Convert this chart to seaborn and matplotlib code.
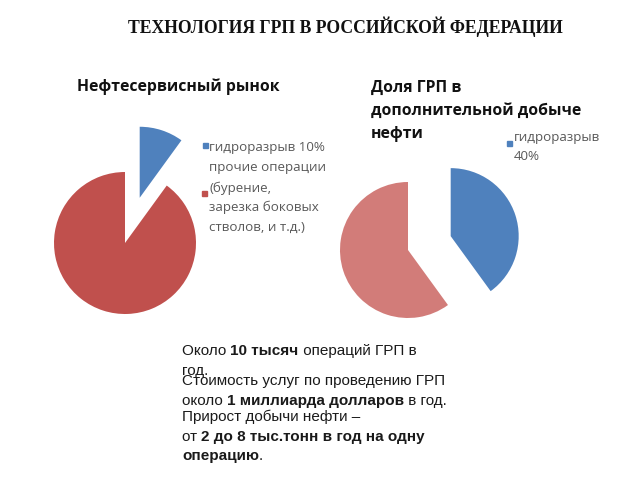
import matplotlib
matplotlib.use("Agg")
import matplotlib.pyplot as plt
import seaborn as sns
from matplotlib.patches import Rectangle

sns.set_theme(style="white")
plt.rcParams['font.family'] = ['Open Sans', 'DejaVu Sans']

# ---- data ----
main_title = "ТЕХНОЛОГИЯ ГРП В РОССИЙСКОЙ ФЕДЕРАЦИИ"
left_title = "Нефтесервисный рынок"
left_labels = ["гидроразрыв 10%", "прочие операции\n(бурение,\nзарезка боковых\nстволов, и т.д.)"]
left_values = [10, 90]
right_title = "Доля ГРП в\nдополнительной добыче\nнефти"
right_labels = ["гидроразрыв\n40%", ""]
right_values = [40, 60]
left_colors = ["#4F81BD", "#C0504D"]
right_colors = ["#4F81BD", "#D27C79"]
notes = [
    [("Около ", False), ("10 тысяч", True), (" операций ГРП в", False)],
    [("год.", False)],
    [("Стоимость услуг по проведению ГРП", False)],
    [("около ", False), ("1 миллиарда долларов", True), (" в год.", False)],
    [("Прирост добычи нефти –", False)],
    [("от ", False), ("2 до 8 тыс.тонн в год на одну", True)],
    [("операцию", True), (".", False)],
]

W, H = 640, 480
fig = plt.figure(figsize=(6.4, 4.8), dpi=100)
fig.patch.set_facecolor("white")


def fx(x):
    return x / W


def fy(y):
    return 1 - y / H


def pie_axes(cx, cy, r):
    return fig.add_axes([fx(cx - 2 * r), fy(cy + 2 * r), 4 * r / W, 4 * r / H])


# left pie
axl = pie_axes(125, 243, 71)
axl.pie(left_values, colors=left_colors, startangle=90, counterclock=False,
        explode=[0.67, 0], wedgeprops=dict(linewidth=0))
axl.set_xlim(-2, 2)
axl.set_ylim(-2, 2)
axl.axis("off")

# right pie
axr = pie_axes(408, 250, 68)
axr.pie(right_values, colors=right_colors, startangle=90, counterclock=False,
        explode=[0.66, 0], wedgeprops=dict(linewidth=0))
axr.set_xlim(-2, 2)
axr.set_ylim(-2, 2)
axr.axis("off")

# titles
fig.text(fx(345), fy(27), main_title, ha="center", va="center",
         family=["Liberation Serif", "DejaVu Serif"], weight="bold", fontsize=12.7, color="#111111")
fig.text(fx(178), fy(87), left_title, ha="center", va="center",
         weight="bold", fontsize=11.3, color="#111111")
for line, yc in zip(right_title.split("\n"), [88, 111, 134]):
    fig.text(fx(371), fy(yc), line, ha="left", va="center",
             weight="bold", fontsize=11.3, color="#111111")

# legends
legc = "#595959"


def square(x, y, c, s=5):
    fig.patches.append(Rectangle((fx(x), fy(y + s)), s / W, s / H, transform=fig.transFigure,
                                 color=c, figure=fig))


square(203, 143, left_colors[0])
square(202, 191, left_colors[1])
lines_left = [left_labels[0]] + left_labels[1].split("\n")
for line, yc in zip(lines_left, [148, 168, 188, 207, 227]):
    fig.text(fx(209), fy(yc), line, ha="left", va="center", fontsize=9.6, color=legc)

square(507, 141, right_colors[0])
for line, yc in zip(right_labels[0].split("\n"), [137, 156]):
    fig.text(fx(514), fy(yc), line, ha="left", va="center", fontsize=9.6, color=legc)

# notes with inline bold
renderer = fig.canvas.get_renderer()
baselines = [355, 375, 385, 405, 421, 441, 460]
for segs, by in zip(notes, baselines):
    x = 182
    for text, bold in segs:
        t = fig.text(fx(x), fy(by), text, ha="left", va="baseline", fontsize=11,
                     family=["Liberation Sans", "DejaVu Sans"],
                     weight="bold" if bold else "normal", color="#1a1a1a")
        x += t.get_window_extent(renderer).width

fig.savefig("out.png", dpi=100, facecolor="white")
